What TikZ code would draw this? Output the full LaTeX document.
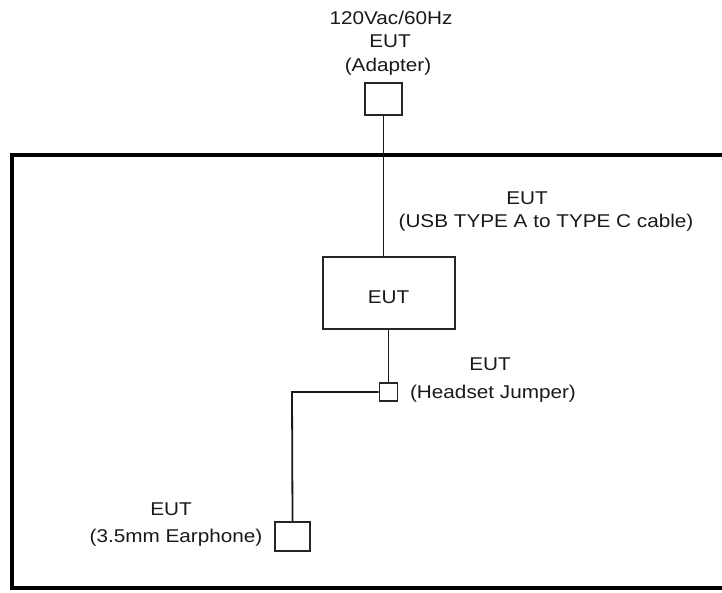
\documentclass[tikz,border=0pt]{standalone}
\usepackage{fontspec}
\setmainfont[FakeStretch=1.12]{Liberation Sans}
\begin{document}
\begin{tikzpicture}[x=1pt,y=-1pt,
  box/.style={draw=black!85, line width=1.9pt, inner sep=0pt, fill=white},
  wire/.style={draw=black!90, line width=1.8pt},
  lbl/.style={inner sep=0pt, anchor=base, font=\fontsize{18.5}{23}\selectfont, text=black!90},
  frame/.style={draw=black, line width=3.2pt}]
\useasboundingbox (0,0) rectangle (722,593);
\begin{scope}
\clip (0,0) rectangle (722,593);
\draw[frame] (760,155) -- (12,155) -- (12,588) -- (760,588);
\end{scope}
% boxes
\node[box, minimum width=37pt, minimum height=32pt] (adapter) at (383.5,99) {};
\node[box, minimum width=132pt, minimum height=72pt] (eut) at (389,293) {};
\node[box, minimum width=18pt, minimum height=18pt] (jumper) at (388.5,392) {};
\node[box, minimum width=35pt, minimum height=29pt] (ear) at (292.5,536.5) {};
\coordinate (bend) at (292,392);
% wires
\draw[wire] (adapter.south) -- (adapter.south |- eut.north);
\draw[wire] (eut.south -| jumper.north) -- (jumper.north);
\draw[wire] (jumper.west) -- (bend) -- (ear.north);
% labels
\node[lbl] (t1) at (391,25) {120Vac/60Hz};
\node[lbl] (t2) at (390,48) {EUT};
\node[lbl] (t3) at (388,72) {(Adapter)};
\node[lbl] (t4) at (527,205) {EUT};
\node[lbl] (t5) at (546,228) {(USB TYPE A to TYPE C cable)};
\node[lbl] (t6) at (388.5,303) {EUT};
\node[lbl] (t7) at (490,370) {EUT};
\node[lbl] (t8) at (493,398) {(Headset Jumper)};
\node[lbl] (t9) at (171,515) {EUT};
\node[lbl] (t10) at (176,542) {(3.5mm Earphone)};
\end{tikzpicture}
\end{document}
